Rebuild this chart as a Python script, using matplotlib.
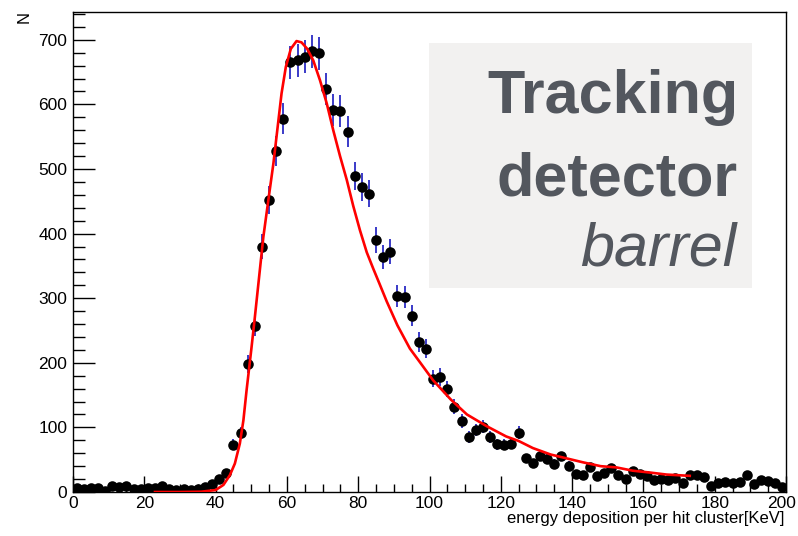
import numpy as np
import matplotlib
matplotlib.use("Agg")
import matplotlib.pyplot as plt
import matplotlib.transforms as mtransforms
from matplotlib.patches import Rectangle
from matplotlib.ticker import MultipleLocator

plt.rcParams['font.family'] = ['Liberation Sans', 'DejaVu Sans']

# Histogram bin centres (bin width 2 KeV) and counts
bin_centers = list(range(1, 200, 2))
counts = [6, 5, 6, 6, 2, 9, 7, 9, 4, 5,
          6, 6, 9, 5, 3, 4, 3, 5, 8, 12,
          20, 30, 73, 91, 198, 257, 380, 452, 528, 578,
          665, 668, 674, 682, 679, 624, 591, 590, 558, 489,
          472, 462, 390, 364, 372, 303, 302, 273, 232, 222,
          175, 178, 159, 132, 110, 85, 96, 101, 85, 74,
          73, 75, 92, 52, 45, 56, 51, 44, 55, 41,
          28, 26, 38, 25, 30, 37, 27, 20, 33, 28,
          25, 19, 20, 19, 21, 14, 26, 26, 23, 9,
          14, 16, 14, 16, 27, 12, 19, 17, 14, 7]

# Fit curve
fit_x = [23, 30, 36, 40, 42.2, 44, 45.4, 46.8, 47.8, 48.7, 50, 51, 52.4, 53.4,
         54.8, 56.2, 57.3, 58.5, 59.7, 61.1, 62.7, 64.1, 65.7, 67.4, 69.3, 71.2,
         73, 74.9, 76.8, 78.6, 80.5, 82.4, 84.2, 86, 88, 91, 94.5, 97.3, 101, 106,
         110.5, 116, 121.5, 125, 129, 134, 138.5, 143, 148, 152.5, 157, 162,
         166.5, 173]
fit_y = [0, 0, 0.5, 3, 11, 26, 44, 75, 111, 158, 220, 270, 343, 395,
         452, 508, 560, 617, 658, 686, 698, 696, 686, 668, 637, 601,
         560, 520, 483, 443, 405, 371, 346, 322, 295, 258, 222, 201, 173, 143,
         120, 102, 86, 79, 68, 58, 52, 46, 40, 38, 33, 30,
         27, 25]

x_ticks = [0, 20, 40, 60, 80, 100, 120, 140, 160, 180, 200]
y_ticks = [0, 100, 200, 300, 400, 500, 600, 700]

fig = plt.figure(figsize=(7.98, 5.36), dpi=100)
ax = fig.add_axes([73/798, 44/536, 713/798, 480/536])

errs = np.sqrt(np.array(counts, dtype=float))
ax.errorbar(bin_centers, counts, yerr=errs, fmt='none', ecolor='#3a3ac8',
            elinewidth=1.4, capsize=0, zorder=2)
ax.plot(bin_centers, counts, 'o', color='black', markersize=7.6, zorder=3,
        markeredgewidth=0)
ax.plot(fit_x, fit_y, color='#ff0000', linewidth=1.9, zorder=4)

ax.set_xlim(0, 200)
ax.set_ylim(0, 743)
ax.set_xticks(x_ticks)
ax.set_yticks(y_ticks)
ax.xaxis.set_minor_locator(MultipleLocator(5))
ax.yaxis.set_minor_locator(MultipleLocator(20))
ax.tick_params(axis='both', which='both', direction='in', top=False, right=False,
               width=1.0, labelsize=12.5, colors='black')
ax.tick_params(axis='y', which='major', length=15.5, pad=4)
ax.tick_params(axis='y', which='minor', length=8.5)
ax.tick_params(axis='x', which='major', length=11.5, pad=3)
ax.tick_params(axis='x', which='minor', length=5.8)
for s in ax.spines.values():
    s.set_linewidth(1.0)

# keep the last x tick label inside the canvas
fig.canvas.draw()
last = ax.get_xticklabels()[-1]
last.set_transform(last.get_transform() +
                   mtransforms.ScaledTranslation(-4/100, 0, fig.dpi_scale_trans))

fig.text(784/798, 1 - 523/536, 'energy deposition per hit cluster[KeV]',
         ha='right', va='baseline', fontsize=12)
fig.text(24/798, 1 - 11/536, 'N', rotation=90, ha='center', va='top', fontsize=12)

# Title box
box = Rectangle((429.3/798, 1 - 287.7/536), (751.7 - 429.3)/798, (287.7 - 42.7)/536,
                transform=fig.transFigure, facecolor='#f2f1f0', edgecolor='none',
                zorder=5)
fig.patches.append(box)
tc = '#53575e'
fig.text(738/798, 1 - 113/536, 'Tracking', ha='right', va='baseline',
         fontsize=44, fontweight='bold', color=tc, zorder=6)
fig.text(738/798, 1 - 195/536, 'detector', ha='right', va='baseline',
         fontsize=44, fontweight='bold', color=tc, zorder=6)
fig.text(737/798, 1 - 265/536, 'barrel', ha='right', va='baseline',
         fontsize=44, fontstyle='italic', color=tc, zorder=6)

fig.savefig('out.png', dpi=100)
